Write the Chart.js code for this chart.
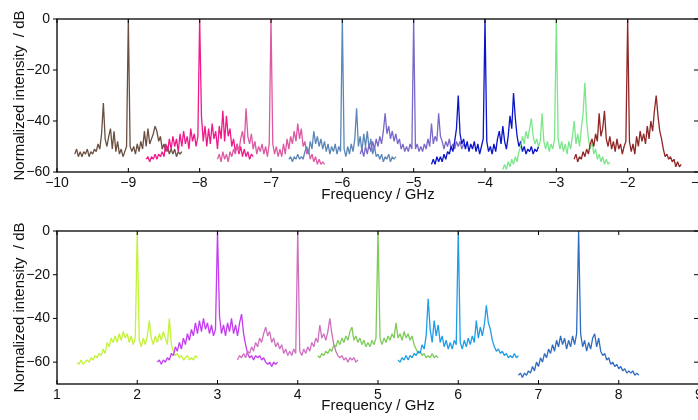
<!DOCTYPE html>
<html>
<head>
<meta charset="utf-8">
<script src="https://cdn.jsdelivr.net/npm/chart.js@4.4.1/dist/chart.umd.min.js"></script>
<style>
  html, body { margin: 0; padding: 0; overflow: hidden; background: #fff; }
  canvas { display: block; }
</style>
</head>
<body>
<canvas id="topChart" width="712" height="210"></canvas>
<canvas id="bottomChart" width="712" height="210"></canvas>
<script>
// spectra sampled every 25 MHz, 61 points each, carrier in the middle
const step = 0.025;

const topStarts = [-9.75, -8.75, -7.75, -6.75, -5.75, -4.75, -3.75, -2.75];
const bottomStarts = [1.25, 2.25, 3.25, 4.25, 5.25, 6.75];

const xTicksTop = [-10, -9, -8, -7, -6, -5, -4, -3, -2, -1];
const xTicksBottom = [1, 2, 3, 4, 5, 6, 7, 8, 9];
const yTicksTop = [-60, -40, -20, 0];
const yTicksBottom = [-60, -40, -20, 0];

const lineM9 = [-53,-51,-54,-52,-54,-52,-53,-51,-54,-52,
  -53,-51,-52,-49,-51,-45,-33,-47,-50,-46,
  -43,-51,-44,-52,-48,-53,-51,-54,-52,-50,
  0,
  -50,-52,-50,-53,-49,-52,-48,-51,-44,-50,
  -43,-49,-47,-45,-42,-44,-48,-46,-51,-49,
  -52,-50,-53,-51,-53,-51,-54,-52,-53,-52];
const lineM8 = [-55,-54,-56,-54,-55,-53,-55,-53,-54,-52,
  -54,-49,-52,-47,-51,-46,-50,-47,-52,-45,
  -50,-44,-49,-46,-51,-43,-48,-45,-50,-46,
  0,
  -38,-48,-42,-50,-43,-49,-41,-47,-44,-51,
  -42,-47,-36,-48,-38,-46,-43,-50,-47,-52,
  -49,-53,-50,-54,-51,-54,-52,-55,-53,-54];
const lineM7 = [-55,-53,-56,-52,-55,-53,-56,-52,-54,-51,
  -53,-49,-52,-47,-44,-49,-35,-46,-49,-45,
  -51,-48,-53,-50,-52,-49,-53,-50,-54,-49,
  0,
  -49,-53,-50,-54,-51,-54,-49,-53,-47,-51,
  -46,-49,-44,-48,-41,-47,-43,-50,-48,-53,
  -51,-55,-53,-56,-54,-57,-55,-57,-56,-57];
const lineM6 = [-55,-54,-56,-54,-55,-53,-55,-54,-55,-52,
  -50,-53,-48,-51,-44,-49,-46,-50,-47,-51,
  -48,-52,-49,-53,-50,-52,-49,-53,-50,-52,
  0,
  -51,-54,-50,-53,-49,-52,-47,-35,-50,-46,
  -52,-45,-50,-44,-51,-47,-53,-50,-54,-53,
  -55,-53,-56,-54,-55,-53,-56,-54,-55,-54];
const lineM5 = [-53,-51,-54,-50,-53,-49,-52,-48,-51,-47,
  -50,-46,-49,-44,-37,-45,-42,-47,-44,-48,
  -45,-49,-47,-51,-49,-52,-50,-52,-49,-51,
  0,
  -51,-49,-52,-50,-52,-49,-51,-47,-50,-41,
  -49,-46,-48,-37,-46,-48,-51,-48,-50,-47,
  -51,-49,-51,-48,-50,-48,-51,-49,-50,-49];
const lineM4 = [-57,-55,-57,-54,-56,-54,-56,-53,-55,-52,
  -53,-50,-52,-48,-43,-30,-45,-49,-47,-51,
  -48,-52,-49,-51,-48,-52,-49,-53,-50,-47,
  0,
  -48,-52,-50,-53,-49,-52,-47,-44,-49,-42,
  -48,-51,-46,-38,-43,-29,-39,-46,-50,-48,
  -52,-50,-53,-51,-52,-50,-53,-51,-52,-50];
const lineM3 = [-59,-57,-59,-56,-58,-55,-57,-54,-56,-52,
  -50,-46,-49,-44,-47,-43,-39,-46,-49,-47,
  -50,-48,-37,-48,-51,-48,-52,-49,-51,-47,
  0,
  -47,-51,-48,-52,-49,-53,-48,-51,-46,-40,
  -49,-45,-50,-43,-37,-25,-40,-47,-51,-48,
  -53,-51,-55,-53,-56,-54,-57,-55,-57,-56];
const lineM2 = [-55,-53,-56,-54,-55,-52,-54,-51,-53,-49,
  -47,-50,-45,-48,-37,-46,-43,-36,-47,-50,
  -46,-51,-48,-52,-47,-51,-49,-53,-50,-48,
  0,
  -48,-52,-49,-53,-46,-50,-44,-48,-45,-49,
  -42,-47,-40,-44,-36,-30,-38,-44,-47,-51,
  -54,-53,-55,-54,-56,-55,-58,-56,-58,-57];

const lineP2 = [-60,-61,-59,-61,-60,-59,-60,-58,-59,-57,
  -58,-56,-57,-54,-56,-51,-53,-49,-51,-48,
  -51,-47,-50,-46,-49,-47,-51,-48,-52,-49,
  0,
  -50,-53,-49,-52,-48,-41,-49,-52,-48,-51,
  -47,-50,-46,-49,-52,-40,-52,-55,-57,-56,
  -58,-57,-59,-58,-57,-59,-58,-59,-57,-58];
const lineP3 = [-60,-59,-61,-59,-60,-58,-59,-56,-57,-53,
  -55,-51,-54,-49,-52,-47,-50,-45,-48,-42,
  -47,-41,-46,-40,-45,-42,-47,-43,-48,-45,
  0,
  -39,-47,-43,-48,-42,-46,-40,-47,-43,-48,
  -42,-38,-47,-52,-56,-58,-57,-59,-57,-58,
  -57,-59,-58,-60,-61,-60,-62,-60,-61,-60];
const lineP4 = [-59,-57,-58,-56,-58,-55,-56,-53,-55,-51,
  -53,-49,-51,-47,-44,-48,-46,-51,-49,-53,
  -51,-54,-52,-56,-54,-57,-55,-57,-54,-56,
  0,
  -55,-57,-54,-56,-53,-55,-51,-53,-49,-51,
  -43,-49,-47,-50,-46,-40,-47,-52,-55,-57,
  -58,-57,-59,-58,-60,-58,-59,-58,-60,-59];
const lineP5 = [-57,-58,-56,-57,-55,-56,-54,-55,-52,-53,
  -50,-52,-49,-51,-48,-50,-46,-44,-50,-48,
  -51,-49,-52,-50,-53,-51,-53,-50,-52,-49,
  0,
  -49,-52,-49,-51,-48,-50,-47,-49,-42,-49,
  -47,-50,-46,-49,-47,-50,-48,-52,-54,-56,
  -55,-57,-56,-58,-57,-58,-56,-58,-57,-58];
const lineP6 = [-59,-60,-58,-59,-57,-59,-57,-58,-56,-57,
  -55,-56,-52,-54,-48,-31,-45,-51,-41,-48,
  -43,-51,-48,-53,-50,-54,-51,-54,-50,-52,
  0,
  -51,-54,-50,-53,-49,-52,-48,-51,-41,-49,
  -44,-48,-43,-34,-42,-45,-50,-53,-55,-54,
  -56,-55,-57,-56,-58,-57,-58,-56,-58,-57];
const lineP75 = [-66,-65,-67,-65,-66,-64,-65,-62,-64,-60,
  -62,-58,-60,-56,-58,-54,-56,-52,-55,-50,
  -53,-48,-52,-49,-54,-50,-53,-48,-52,-47,
  0,
  -47,-53,-50,-55,-51,-54,-49,-47,-53,-49,
  -55,-57,-56,-59,-58,-61,-60,-62,-61,-63,
  -62,-64,-63,-65,-64,-65,-64,-66,-65,-66];

const topSeries = [lineM9, lineM8, lineM7, lineM6, lineM5, lineM4, lineM3, lineM2];
const bottomSeries = [lineP2, lineP3, lineP4, lineP5, lineP6, lineP75];

const topColors = ['#6a5040', '#f0198c', '#dc5aa2', '#5b87b8', '#7b68c9', '#0a14c8', '#7ce68a', '#902626'];
const bottomColors = ['#c3f23a', '#c43cf0', '#cf70bf', '#7dcb58', '#1f9de8', '#2e6cc2'];

const fontFamily = "'Liberation Sans', Arial, Helvetica, sans-serif";
const minus = v => String(v).replace('-', '\u2212');

const frame = {
  id: 'frame',
  afterDraw(chart) {
    const {ctx, chartArea: a, scales: {x, y}} = chart;
    ctx.save();
    ctx.strokeStyle = '#000';
    ctx.lineWidth = 1;
    ctx.beginPath();
    x.ticks.forEach(t => {
      const px = x.getPixelForValue(t.value);
      ctx.moveTo(px, a.bottom); ctx.lineTo(px, a.bottom - 4);
      ctx.moveTo(px, a.top); ctx.lineTo(px, a.top + 4);
    });
    y.ticks.forEach(t => {
      const py = y.getPixelForValue(t.value);
      ctx.moveTo(a.left - 4, py); ctx.lineTo(a.left, py);
      ctx.moveTo(a.right, py); ctx.lineTo(a.right - 5, py);
    });
    ctx.stroke();
    ctx.lineWidth = 1.3;
    ctx.strokeRect(a.left, a.top, a.right - a.left, a.bottom - a.top);
    ctx.restore();
  }
};

function makeChart(id, starts, series, colors, xTicks, yMin, yTicks, topPad, titlePad) {
  const datasets = series.map((vals, i) => ({
    data: vals.map((v, k) => ({x: starts[i] + k * step, y: v})),
    borderColor: colors[i],
    borderWidth: 1.3,
    borderJoinStyle: 'bevel',
    pointRadius: 0,
    tension: 0,
    order: -i
  }));
  return new Chart(document.getElementById(id), {
    type: 'line',
    data: {datasets},
    options: {
      responsive: false,
      animation: false,
      events: [],
      layout: {padding: {top: topPad, right: 13, left: 0, bottom: 0}},
      plugins: {legend: {display: false}, tooltip: {enabled: false}},
      scales: {
        x: {
          type: 'linear',
          min: xTicks[0],
          max: xTicks[xTicks.length - 1],
          grid: {display: false, drawTicks: false},
          border: {display: false},
          afterBuildTicks: s => { s.ticks = xTicks.map(v => ({value: v})); },
          ticks: {padding: 3, maxRotation: 0, autoSkip: false, color: '#111',
                  font: {family: fontFamily, size: 14}, callback: minus},
          title: {display: true, text: 'Frequency / GHz', color: '#111',
                  font: {family: fontFamily, size: 15}, padding: {top: 0, bottom: titlePad}},
          afterFit: s => { s.height = 210 - topPad - 153; }
        },
        y: {
          min: yMin,
          max: 0,
          grid: {display: false, drawTicks: false},
          border: {display: false},
          afterBuildTicks: s => { s.ticks = yTicks.map(v => ({value: v})); },
          ticks: {padding: 7, color: '#111', font: {family: fontFamily, size: 14}, callback: minus},
          title: {display: true, text: 'Normalized intensity  / dB', color: '#111',
                  font: {family: fontFamily, size: 15}, padding: {top: 11, bottom: 0}},
          afterFit: s => { s.width = 57; }
        }
      }
    },
    plugins: [frame]
  });
}

makeChart('topChart', topStarts, topSeries, topColors, xTicksTop, -60, yTicksTop, 19, 6);
makeChart('bottomChart', bottomStarts, bottomSeries, bottomColors, xTicksBottom, -70, yTicksBottom, 21, 5);
</script>
</body>
</html>
